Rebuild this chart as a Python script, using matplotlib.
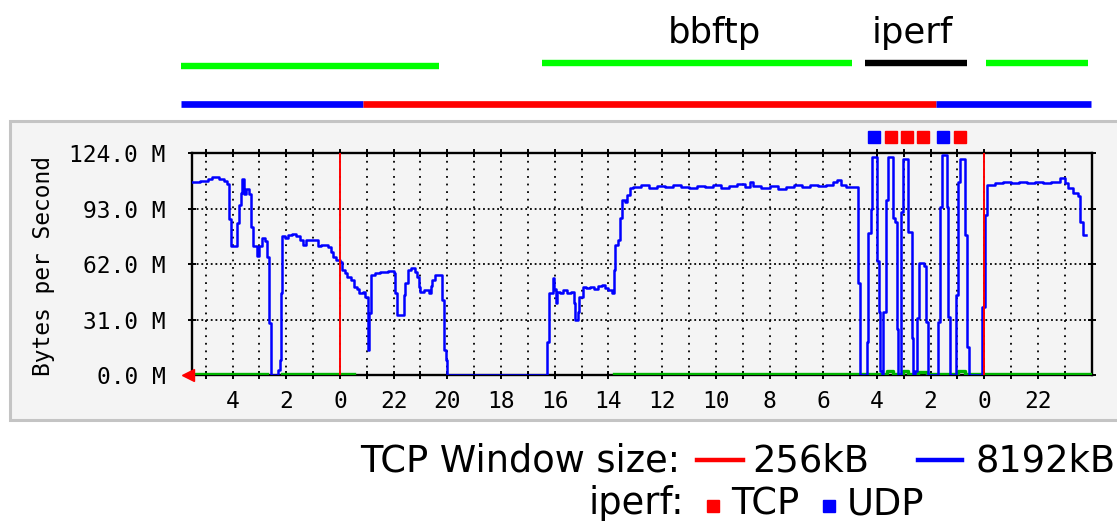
import numpy as np
import matplotlib
matplotlib.use("Agg")
import matplotlib.pyplot as plt
import matplotlib.transforms as mtransforms
from matplotlib.patches import Rectangle
from matplotlib.lines import Line2D

# time axis: hours after the first midnight, time runs backwards to the right (MRTG style)
blue_t = [-5.52, -5.2, -4.9, -4.75, -4.5, -4.3, -4.2,
          -4.13, -4.07, -3.82, -3.75, -3.70, -3.64, -3.58, -3.51, -3.40,
          -3.33, -3.22, -3.10, -3.00, -2.90, -2.78, -2.70, -2.64, -2.58,
          -2.30, -2.24, -2.21, -2.15, -2.05, -1.95, -1.80, -1.65, -1.50,
          -1.38, -1.25, -1.0, -0.80, -0.70, -0.45, -0.35, -0.25, -0.16,
          0.0, 0.09, 0.18, 0.27, 0.40, 0.52, 0.62, 0.71, 0.85, 0.95,
          1.04, 1.09, 1.14, 1.30, 1.50, 1.80, 2.00, 2.07, 2.13, 2.40,
          2.44, 2.52, 2.65, 2.80, 2.88, 2.95, 3.00, 3.15, 3.30, 3.38,
          3.44, 3.56, 3.75, 3.81, 3.87, 3.94, 4.00,
          7.73, 7.80, 7.93, 7.98, 8.04, 8.10, 8.20, 8.32, 8.45, 8.60,
          8.70, 8.76, 8.85, 8.92, 9.04, 9.15, 9.30, 9.45, 9.60, 9.75,
          9.88, 10.00, 10.12, 10.19, 10.25, 10.36, 10.43, 10.50, 10.60, 10.68,
          10.81, 10.93, 11.2, 11.5, 11.8, 12.1, 12.4, 12.7, 13.0, 13.3,
          13.6, 13.9, 14.2, 14.5, 14.8, 15.1, 15.27, 15.4, 15.7, 16.0,
          16.3, 16.6, 16.9, 17.2, 17.5, 17.8, 18.1, 18.35, 18.50, 18.65,
          18.85, 19.0, 19.31, 19.37,
          19.62, 19.68, 19.77, 19.82, 20.02, 20.07, 20.12, 20.18, 20.24, 20.34,
          20.43, 20.61, 20.67, 20.74, 20.80, 20.89, 20.99, 21.17, 21.30, 21.36,
          21.42, 21.48, 21.58, 21.76, 21.83, 21.92, 22.29, 22.35, 22.42, 22.60,
          22.66, 22.72, 22.95, 23.03, 23.09, 23.28, 23.37, 23.44, 23.90, 24.02,
          24.1, 24.4, 24.7, 25.0, 25.3, 25.6, 25.9, 26.2, 26.5, 26.82,
          27.0, 27.13, 27.31, 27.50, 27.56, 27.68, 27.78]
blue_mb = [108, 108.5, 109.5, 110.5, 109.5, 108.5, 107,
           87, 72, 85, 95, 102, 109.5, 101.5, 104, 101.5,
           83, 72, 66.5, 72, 76.5, 75, 66, 29, 0,
           3, 8.4, 45.7, 77.5, 76.5, 78.3, 79, 77.5, 75.5,
           72.7, 75.5, 75.5, 72, 72.5, 71.5, 69, 66, 64.3,
           63, 58.7, 57, 55, 53.2, 49.4, 48, 45.7, 46.5, 43.8,
           14, 34.5, 56, 57, 57.8, 58, 56.9, 45.7, 33.6, 45,
           51.3, 58.7, 59.7, 57.5, 55, 49, 46.6, 47.5, 46, 50,
           53.2, 56, 56, 42, 14, 8.4, 0,
           18.6, 45.7, 54, 48, 40, 46.5, 45.7, 47.5, 45.7, 46.5,
           40, 30.8, 35, 43.8, 49.4, 48.5, 49.4, 48, 49.5, 50.5,
           48.5, 47.5, 45.7, 58.7, 72.7, 75.5, 87.7, 98, 97, 100.7,
           104.4, 105.4, 106.2, 104.6, 105.8, 104.9, 106.0, 105.1, 104.4, 105.9,
           105.2, 106.3, 104.8, 105.5, 106.8, 105.0, 108, 105.6, 104.7, 105.9,
           104.3, 105.4, 106.1, 105.2, 106.4, 105.7, 106.5, 107.8, 109, 106.5,
           105.3, 105.4, 51.3, 0,
           18.6, 79.3, 93, 122, 64, 35, 2, 0, 35.4, 98,
           122, 87.7, 85.8, 26, 0, 91.4, 121, 80, 20.5, 0,
           2, 31.7, 62.5, 61, 29.8, 0, 29.8, 94, 123, 94,
           32.6, 0, 44.8, 108, 121, 78.3, 15.9, 0, 38.2, 89.5,
           106.3, 107.2, 108, 107.3, 107.8, 107.5, 108.2, 107.6, 108, 110,
           107.5, 104.4, 101.6, 100, 85.8, 78.3, 78.3]

green_t = [-5.52, -2.70, -2.15, 0.52, 10.21, 20.36, 20.61, 20.99, 21.17, 21.54, 21.85, 23.03, 23.28, 28.0]
green_mb = [0.8, np.nan, 0.8, np.nan, 0.8, 2.2, 0.8, 2.2, 0.8, 1.5, 0.8, 2.2, 0.8, 0.8]

midnights = [0, 24]
y_ticks = [0, 31, 62, 93, 124]

# annotations above the graph (hours on the same axis)
bbftp_spans = [(-5.90, 3.70), (7.53, 19.09), (24.06, 27.87)]
iperf_span = (19.55, 23.36)
window_spans = [(-5.90, 0.87, "8192kB"), (0.87, 22.20, "256kB"), (22.20, 27.96, "8192kB")]
iperf_runs_t = [19.88, 20.53, 21.12, 21.71, 22.45, 23.10]
iperf_runs = ["UDP", "TCP", "TCP", "TCP", "UDP", "TCP"]

W, H = 1117, 521
win_color = {"256kB": "#ff0000", "8192kB": "#0000ff"}
run_color = {"TCP": "#ff0000", "UDP": "#0000ff"}
bg = "#f4f4f4"

def fx(px):
    return px / W

def fy(py):
    return (H - py) / H

fig = plt.figure(figsize=(W / 100, H / 100), dpi=100)
fig.patch.set_facecolor("white")
fig.patches.append(Rectangle((fx(10), fy(420)), 1.0, fy(121) - fy(420), transform=fig.transFigure,
                             facecolor=bg, edgecolor="#c4c4c4", linewidth=2.2, zorder=-5))

ax = fig.add_axes([fx(191.7), fy(375), fx(1091.7) - fx(191.7), fy(153.3) - fy(375)])
ax.set_zorder(1)
ax.set_facecolor(bg)
ax.set_xlim(-5.52, 28.0)
ax.set_ylim(0, 124)

hours = np.arange(-5, 28)
ax.set_xticks(hours)
ax.set_xticklabels([str(int((-h) % 24)) if h % 2 == 0 else "" for h in hours])
ax.set_yticks(y_ticks)
ax.set_yticklabels(["%.1f M" % v for v in y_ticks])
ax.grid(True, axis="x", color="black", linestyle=(0, (1, 3.2)), linewidth=1.3)
ax.grid(True, axis="y", color="black", linestyle=(0, (1, 1.6)), linewidth=1.3)
for sp in ax.spines.values():
    sp.set_linewidth(1.7)
ax.tick_params(axis="both", direction="inout", length=6, width=1.4, top=True, right=True,
               labelsize=16.5, colors="black")
ax.tick_params(axis="x", pad=8)
ax.tick_params(axis="y", pad=16)
for lab in ax.get_xticklabels() + ax.get_yticklabels():
    lab.set_family("DejaVu Sans Mono")

ax.plot(green_t, green_mb, drawstyle="steps-post", color="#00b400", lw=2.4, zorder=3)
ax.plot(blue_t, blue_mb, drawstyle="steps-post", color="#0000ff", lw=1.8, zorder=4)
ax.vlines(midnights, 0, 124, color="#ff0000", lw=1.4, zorder=5)
ax.plot([-0.004], [0], transform=ax.transAxes, marker="<", ms=9, color="#ff0000",
        clip_on=False, zorder=6)

fig.text(fx(44), fy(266), "Bytes per Second", rotation=90, ha="center", va="center",
         family="DejaVu Sans Mono", fontsize=16.5)

# iperf runs marked above the plot
trans = mtransforms.blended_transform_factory(ax.transData, fig.transFigure)
for t, kind in zip(iperf_runs_t, iperf_runs):
    ax.plot([t], [fy(136.7)], transform=trans, marker="s", ms=9, color=run_color[kind],
            clip_on=False, linestyle="none")

# annotation bars at the top
for i, (a, b) in enumerate(bbftp_spans):
    yy = fy(65.7) if i == 0 else fy(63.3)
    ax.add_line(Line2D([a, b], [yy, yy], transform=trans, color="#00ff00", lw=4.6,
                       solid_capstyle="butt", clip_on=False))
ax.add_line(Line2D(list(iperf_span), [fy(63.3)] * 2, transform=trans, color="black", lw=4.6,
                   solid_capstyle="butt", clip_on=False))
for a, b, size in window_spans:
    ax.add_line(Line2D([a, b], [fy(104)] * 2, transform=trans, color=win_color[size], lw=4.8,
                       solid_capstyle="butt", clip_on=False))
ax.text(13.94, fy(43.3), "bbftp", transform=trans, ha="center", va="baseline", fontsize=25.5)
ax.text(21.32, fy(42.7), "iperf", transform=trans, ha="center", va="baseline", fontsize=25.5)

# legend at the bottom
fs = 26.5
fig.text(fx(360), fy(471.7), "TCP Window size:", ha="left", va="baseline", fontsize=fs)
fig.add_artist(Line2D([fx(696.7), fx(743.3)], [fy(460)] * 2, color=win_color["256kB"], lw=3.2))
fig.text(fx(752), fy(471.7), "256kB", ha="left", va="baseline", fontsize=fs)
fig.add_artist(Line2D([fx(918), fx(962)], [fy(460)] * 2, color=win_color["8192kB"], lw=3.2))
fig.text(fx(975), fy(471.7), "8192kB", ha="left", va="baseline", fontsize=fs)

fig.text(fx(589), fy(514.5), "iperf:", ha="left", va="baseline", fontsize=fs)
fig.add_artist(Line2D([fx(712.7)], [fy(505.7)], marker="s", ms=9, color=run_color["TCP"], linestyle="none"))
fig.text(fx(731), fy(514.5), "TCP", ha="left", va="baseline", fontsize=fs)
fig.add_artist(Line2D([fx(828.8)], [fy(505.7)], marker="s", ms=9, color=run_color["UDP"], linestyle="none"))
fig.text(fx(847), fy(514.5), "UDP", ha="left", va="baseline", fontsize=fs)

fig.savefig("out.png", dpi=100, facecolor="white")
